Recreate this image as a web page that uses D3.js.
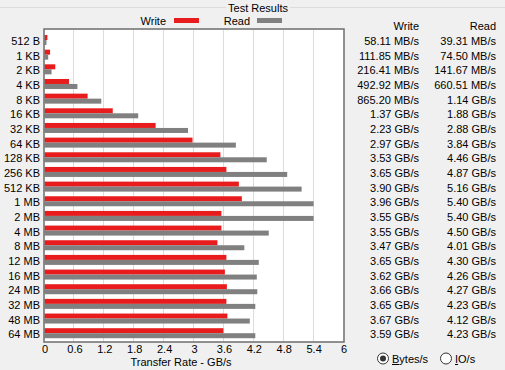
<!DOCTYPE html>
<html lang="en">
<head>
<meta charset="UTF-8">
<title>Test Results</title>
<script src="https://d3js.org/d3.v7.min.js"></script>
<style>
  body { margin: 0; background: #f0f0f0; }
  text { font-family: "Liberation Sans", Arial, sans-serif; font-size: 11px; fill: #000; }
</style>
</head>
<body>
<script>
const sizes = ["512 B", "1 KB", "2 KB", "4 KB", "8 KB", "16 KB", "32 KB", "64 KB", "128 KB", "256 KB",
  "512 KB", "1 MB", "2 MB", "4 MB", "8 MB", "12 MB", "16 MB", "24 MB", "32 MB", "48 MB", "64 MB"];
const writeRates = ["58.11 MB/s", "111.85 MB/s", "216.41 MB/s", "492.92 MB/s", "865.20 MB/s", "1.37 GB/s",
  "2.23 GB/s", "2.97 GB/s", "3.53 GB/s", "3.65 GB/s", "3.90 GB/s", "3.96 GB/s", "3.55 GB/s", "3.55 GB/s",
  "3.47 GB/s", "3.65 GB/s", "3.62 GB/s", "3.66 GB/s", "3.65 GB/s", "3.67 GB/s", "3.59 GB/s"];
const readRates = ["39.31 MB/s", "74.50 MB/s", "141.67 MB/s", "660.51 MB/s", "1.14 GB/s", "1.88 GB/s",
  "2.88 GB/s", "3.84 GB/s", "4.46 GB/s", "4.87 GB/s", "5.16 GB/s", "5.40 GB/s", "5.40 GB/s", "4.50 GB/s",
  "4.01 GB/s", "4.30 GB/s", "4.26 GB/s", "4.27 GB/s", "4.23 GB/s", "4.12 GB/s", "4.23 GB/s"];
const xTicks = [0, 0.6, 1.2, 1.8, 2.4, 3, 3.6, 4.2, 4.8, 5.4, 6];

// "865.20 MB/s" -> 0.8652 GB/s
const toGB = s => {
  const [v, unit] = s.split(" ");
  return unit === "MB/s" ? +v / 1000 : +v;
};

const W = 505, H = 370;
const plot = { left: 44.5, right: 343.5, top: 29.5, bottom: 341.5 };
const barH = 5;

const svg = d3.select("body").append("svg")
  .attr("width", W).attr("height", H);

// group box line at top
svg.append("line").attr("x1", 0).attr("x2", 226).attr("y1", 7.5).attr("y2", 7.5).attr("stroke", "#dcdcdc");
svg.append("line").attr("x1", 290).attr("x2", W).attr("y1", 7.5).attr("y2", 7.5).attr("stroke", "#dcdcdc");
svg.append("text").attr("x", 258).attr("y", 11.5).attr("text-anchor", "middle").text("Test Results");

// legend
svg.append("text").attr("x", 166).attr("y", 25).attr("text-anchor", "end").text("Write");
svg.append("rect").attr("x", 174).attr("y", 18).attr("width", 25).attr("height", 5).attr("fill", "#e81c1c");
svg.append("text").attr("x", 250).attr("y", 25).attr("text-anchor", "end").text("Read");
svg.append("rect").attr("x", 257).attr("y", 18).attr("width", 25).attr("height", 5).attr("fill", "#808080");

const x = d3.scaleLinear().domain([0, 6]).range([plot.left, plot.right]);
const y = d3.scaleBand().domain(sizes).range([35, 35 + 14.66 * sizes.length]);

// plot background
svg.append("rect")
  .attr("x", plot.left).attr("y", plot.top)
  .attr("width", plot.right - plot.left).attr("height", plot.bottom - plot.top)
  .attr("fill", "#fff");

// grid
svg.append("g").selectAll("line")
  .data(xTicks.slice(1, -1))
  .join("line")
  .attr("x1", d => Math.round(x(d)) - 0.5).attr("x2", d => Math.round(x(d)) - 0.5)
  .attr("y1", plot.top).attr("y2", plot.bottom)
  .attr("stroke", "#dcdcdc");

// bars
const rows = sizes.map((s, i) => ({ size: s, w: toGB(writeRates[i]), r: toGB(readRates[i]) }));
svg.append("g").selectAll("rect")
  .data(rows)
  .join("rect")
  .attr("x", x(0)).attr("y", d => y(d.size))
  .attr("width", d => x(d.w) - x(0)).attr("height", barH)
  .attr("fill", "#e81c1c");
svg.append("g").selectAll("rect")
  .data(rows)
  .join("rect")
  .attr("x", x(0)).attr("y", d => y(d.size) + barH)
  .attr("width", d => x(d.r) - x(0)).attr("height", barH)
  .attr("fill", "#808080");

// frame
svg.append("rect")
  .attr("x", plot.left - 0.5).attr("y", plot.top - 0.5)
  .attr("width", plot.right - plot.left + 1).attr("height", plot.bottom - plot.top + 1)
  .attr("fill", "none").attr("stroke", "#6e6e6e").attr("stroke-width", 1.5);

// y labels
svg.append("g").selectAll("text")
  .data(sizes)
  .join("text")
  .attr("x", 40).attr("y", d => y(d) + 10)
  .attr("text-anchor", "end")
  .text(d => d);

// x axis
const xAxis = svg.append("g")
  .attr("transform", `translate(0,${plot.bottom})`)
  .call(d3.axisBottom(x).tickValues(xTicks).tickSize(0).tickPadding(4).tickFormat(d3.format("")));
xAxis.select(".domain").remove();
xAxis.selectAll("text").attr("font-size", 11).attr("font-family", "Liberation Sans, Arial, sans-serif").attr("fill", "#000");

svg.append("text").attr("x", 181).attr("y", 366).attr("text-anchor", "middle").text("Transfer Rate - GB/s");

// value table
svg.append("text").attr("x", 419).attr("y", 29.5).attr("text-anchor", "end").text("Write");
svg.append("text").attr("x", 496).attr("y", 29.5).attr("text-anchor", "end").text("Read");
svg.append("g").selectAll("text")
  .data(sizes)
  .join("text")
  .attr("x", 419).attr("y", d => y(d) + 10)
  .attr("text-anchor", "end")
  .text((d, i) => writeRates[i]);
svg.append("g").selectAll("text")
  .data(sizes)
  .join("text")
  .attr("x", 496).attr("y", d => y(d) + 10)
  .attr("text-anchor", "end")
  .text((d, i) => readRates[i]);

// radio buttons
const radios = [{ cx: 383, label: "Bytes/s", on: true }, { cx: 446, label: "IO/s", on: false }];
radios.forEach(r => {
  svg.append("circle").attr("cx", r.cx).attr("cy", 358.5).attr("r", 5.5)
    .attr("fill", "#fff").attr("stroke", "#333");
  if (r.on) svg.append("circle").attr("cx", r.cx).attr("cy", 358.5).attr("r", 3).attr("fill", "#333");
  const t = svg.append("text").attr("x", r.cx + 9).attr("y", 363).text(r.label);
  const first = t.node().getSubStringLength(0, 1);
  svg.append("line").attr("x1", r.cx + 9).attr("x2", r.cx + 9 + first)
    .attr("y1", 364.5).attr("y2", 364.5).attr("stroke", "#000");
});
</script>
</body>
</html>
